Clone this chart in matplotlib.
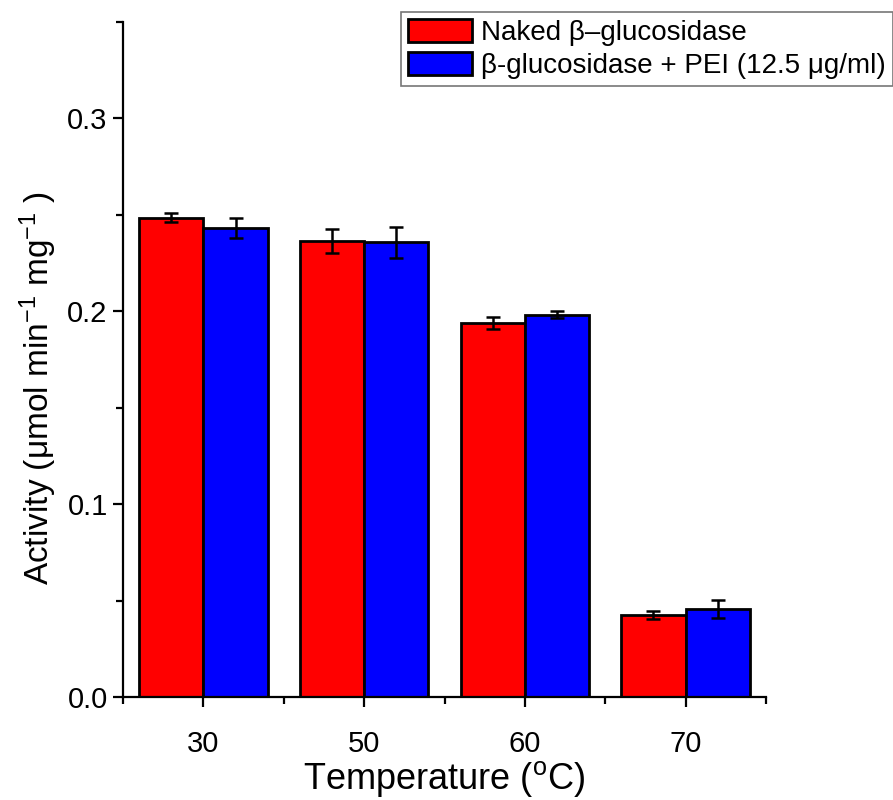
import matplotlib
matplotlib.use("Agg")
import matplotlib.pyplot as plt
import numpy as np
from matplotlib.ticker import MultipleLocator

plt.rcParams['font.family'] = ['Liberation Sans', 'DejaVu Sans']
plt.rcParams['mathtext.fontset'] = 'custom'
plt.rcParams['mathtext.rm'] = 'Liberation Sans'
plt.rcParams['mathtext.it'] = 'Liberation Sans:italic'
plt.rcParams['mathtext.bf'] = 'Liberation Sans:bold'

categories = ["30", "50", "60", "70"]
naked = [0.2486, 0.2364, 0.1940, 0.0426]
naked_err = [0.0023, 0.0061, 0.0030, 0.0020]
pei = [0.2432, 0.2357, 0.1983, 0.0458]
pei_err = [0.0053, 0.0081, 0.0016, 0.0046]
series_labels = ["Naked β–glucosidase", "β-glucosidase + PEI (12.5 μg/ml)"]

fig = plt.figure(figsize=(8.93, 8.0), dpi=100)
ax = fig.add_axes([123 / 893, 103 / 800, (766 - 123) / 893, (697 - 22) / 800])

x = np.arange(len(categories))
w = 0.4
b1 = ax.bar(x - w / 2, naked, w, color='#ff0000', edgecolor='black', linewidth=2.0,
            label=series_labels[0], zorder=2)
b2 = ax.bar(x + w / 2, pei, w, color='#0000ff', edgecolor='black', linewidth=2.0,
            label=series_labels[1], zorder=2)
ax.errorbar(x - w / 2, naked, yerr=naked_err, fmt='none', ecolor='black',
            elinewidth=1.8, capsize=5, capthick=1.8, zorder=3)
ax.errorbar(x + w / 2, pei, yerr=pei_err, fmt='none', ecolor='black',
            elinewidth=1.8, capsize=5, capthick=1.8, zorder=3)

ax.set_xlim(-0.5, len(categories) - 0.5)
ax.set_ylim(0, 0.35)
ax.set_xticks(x)
ax.set_xticklabels(categories)
ax.set_xticks(np.arange(-0.5, len(categories), 1.0), minor=True)
ax.set_yticks([0.0, 0.1, 0.2, 0.3])
ax.set_yticklabels(["0.0", "0.1", "0.2", "0.3"])
ax.yaxis.set_minor_locator(MultipleLocator(0.05))

for s in ['top', 'right']:
    ax.spines[s].set_visible(False)
for s in ['left', 'bottom']:
    ax.spines[s].set_linewidth(1.6)

ax.tick_params(axis='both', which='major', direction='out', length=7, width=1.6,
               labelsize=21)
ax.tick_params(axis='x', which='major', pad=17)
ax.tick_params(axis='y', which='major', pad=4)
ax.tick_params(axis='both', which='minor', direction='out', length=5, width=1.6)

fig.text(444 / 893, 1 - 779 / 800, "Temperature ($^{\\mathrm{o}}$C)", fontsize=26,
         ha='center', va='center')
fig.text(38 / 893, 1 - 388 / 800,
         "Activity (μmol min$^{\\mathrm{-1}}$ mg$^{\\mathrm{-1}}$ )",
         fontsize=24, ha='center', va='center', rotation=90)

leg = fig.legend(handles=[b1, b2], loc='upper right', bbox_to_anchor=(1.0, 1 - 12 / 800),
                 fontsize=20, frameon=True, fancybox=False, edgecolor='#555555',
                 handlelength=2.3, handleheight=0.9, handletextpad=0.35,
                 borderpad=0.25, labelspacing=0.2, borderaxespad=0.0)
leg.get_frame().set_linewidth(1.2)

fig.savefig("out.png", dpi=100)
